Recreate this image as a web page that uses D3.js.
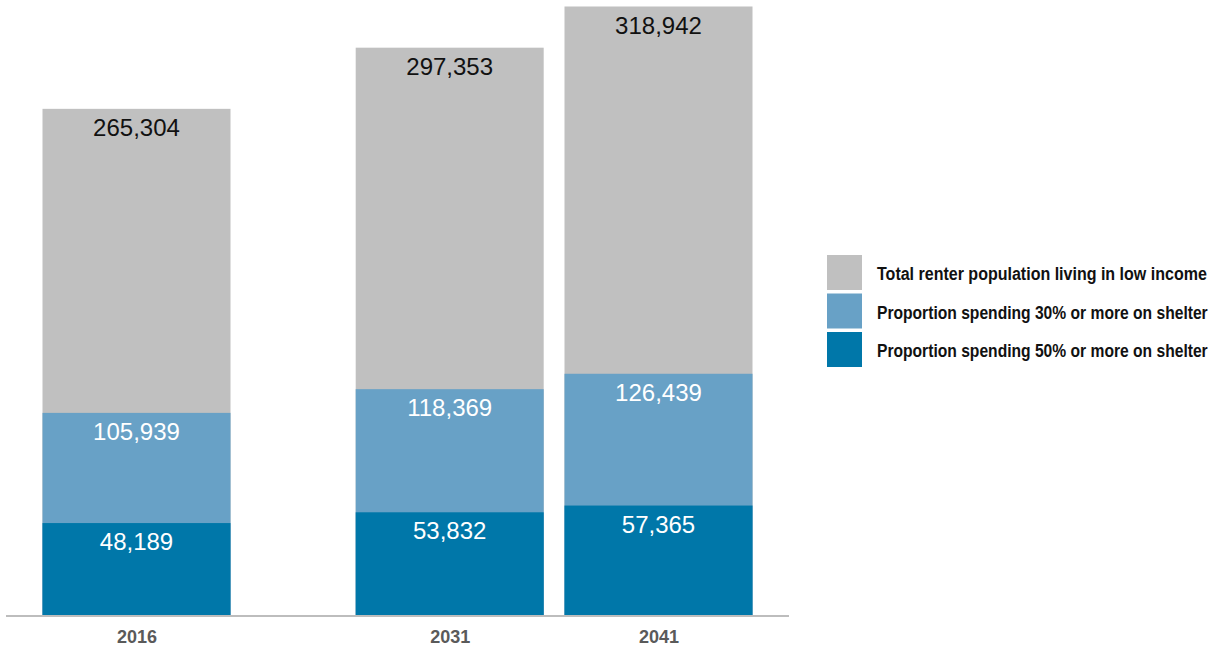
<!DOCTYPE html>
<html><head><meta charset="utf-8">
<script src="https://cdn.jsdelivr.net/npm/d3@7"></script>
<style>body{margin:0;background:#fff;} svg{display:block;}</style>
</head><body>
<svg id="chart" width="1219" height="652"></svg>
<script>
const years = [2016, 2031, 2041];
const totalRenters = [265304, 297353, 318942];
const spending30 = [105939, 118369, 126439];
const spending50 = [48189, 53832, 57365];
const seriesNames = [
  "Total renter population living in low income",
  "Proportion spending 30% or more on shelter",
  "Proportion spending 50% or more on shelter"
];
const legendWidths = [330, 331, 331];
const seriesColors = ["#c0c0c0", "#68a1c6", "#0077a9"];
const labelColors = ["#111", "#fff", "#fff"];
const seriesValues = [totalRenters, spending30, spending50];

const svg = d3.select("#chart");
const x = d3.scaleLinear().domain([2016, 2041]).range([136.5, 658.5]);
const y = d3.scaleLinear().domain([0, 318942]).range([615, 6.5]);
const barW = 188;

seriesValues.forEach((vals, si) => {
  const g = svg.append("g");
  g.selectAll("rect").data(years).join("rect")
    .attr("x", (d) => x(d) - barW / 2)
    .attr("width", barW)
    .attr("y", (d, i) => y(vals[i]))
    .attr("height", (d, i) => y(0) - y(vals[i]))
    .attr("fill", seriesColors[si]);
  g.selectAll("text").data(years).join("text")
    .attr("x", (d) => x(d))
    .attr("y", (d, i) => y(vals[i]) + 27)
    .attr("text-anchor", "middle")
    .attr("font-family", "Liberation Sans, Arial, sans-serif")
    .attr("font-size", 24)
    .attr("fill", labelColors[si])
    .text((d, i) => d3.format(",")(vals[i]));
});

// axis
const axis = d3.axisBottom(x).tickValues(years).tickFormat(d3.format("d")).tickSize(0).tickPadding(0);
const ax = svg.append("g").attr("transform", `translate(0,${y(0)})`).call(axis);
ax.select(".domain").remove();
ax.append("line").attr("x1", 6).attr("x2", 789).attr("y1", 1).attr("y2", 1)
  .attr("stroke", "#bdbdbd").attr("stroke-width", 2);
ax.selectAll(".tick text")
  .attr("dy", null)
  .attr("y", 28)
  .attr("font-family", "Liberation Sans, Arial, sans-serif")
  .attr("font-weight", "bold")
  .attr("font-size", 18)
  .attr("fill", "#5a5a5a");

// legend
const lg = svg.append("g").attr("transform", "translate(827,255)");
seriesNames.forEach((name, i) => {
  lg.append("rect").attr("x", 0).attr("y", i * 38.5).attr("width", 35).attr("height", 35)
    .attr("fill", seriesColors[i]);
  const t = lg.append("text").attr("x", 0).attr("y", 0)
    .attr("font-family", "Liberation Sans, Arial, sans-serif")
    .attr("font-weight", "bold")
    .attr("font-size", 18)
    .attr("fill", "#111")
    .text(name);
  const natural = t.node().getComputedTextLength();
  const sx = legendWidths[i] / natural;
  t.attr("transform", `translate(50,${i * 38.5 + 25}) scale(${sx},1)`);
});
</script>
</body></html>
